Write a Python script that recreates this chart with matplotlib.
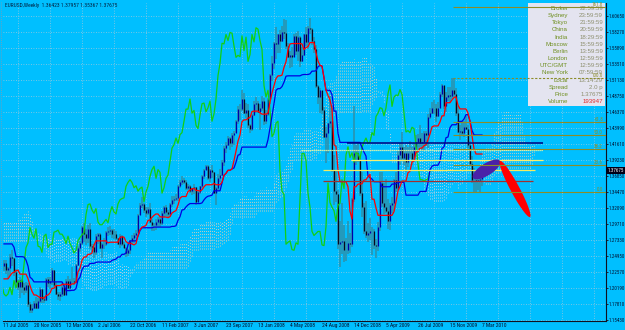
import numpy as np
import matplotlib
matplotlib.use('Agg')
import matplotlib.pyplot as plt
from matplotlib.patches import Polygon, Rectangle
from matplotlib import font_manager
import matplotlib.transforms as mtrans

# ---------------- data ----------------
title_text = "EURUSD,Weekly  1.36423 1.37957 1.35367 1.37675"

# weekly highs / lows of the 77 weeks before the first visible bar (needed by Ichimoku)
pre_high = [1.2930, 1.2650, 1.2500, 1.2450, 1.2410, 1.2400, 1.2330, 1.2270, 1.2060, 1.2000,
            1.2050, 1.2180, 1.2070, 1.2130, 1.2280, 1.2280, 1.2300, 1.2220, 1.2240, 1.2300,
            1.2400, 1.2420, 1.2420, 1.2250, 1.2320, 1.2350, 1.2380, 1.2300, 1.2180, 1.2280,
            1.2300, 1.2300, 1.2450, 1.2420, 1.2470, 1.2620, 1.2820, 1.2890, 1.3000, 1.3050,
            1.3300, 1.3400, 1.3470, 1.3440, 1.3520, 1.3667, 1.3620, 1.3260, 1.3170, 1.3150,
            1.3110, 1.2960, 1.3000, 1.3250, 1.3290, 1.3450, 1.3480, 1.3380, 1.3060, 1.3070,
            1.3080, 1.3100, 1.3090, 1.3000, 1.2950, 1.2720, 1.2670, 1.2550, 1.2390, 1.2310,
            1.2310, 1.2240, 1.2010, 1.2130, 1.2160, 1.2160, 1.2390]
pre_low = [1.2600, 1.2400, 1.2200, 1.2200, 1.2220, 1.2250, 1.2100, 1.2000, 1.1880, 1.1810,
           1.1760, 1.1890, 1.1760, 1.1910, 1.1990, 1.2100, 1.2080, 1.2000, 1.2030, 1.2070,
           1.2260, 1.2280, 1.2200, 1.2020, 1.2020, 1.2160, 1.2220, 1.2040, 1.2000, 1.2040,
           1.2110, 1.2160, 1.2200, 1.2250, 1.2300, 1.2380, 1.2560, 1.2640, 1.2840, 1.2920,
           1.3030, 1.3200, 1.3200, 1.3150, 1.3350, 1.3500, 1.3040, 1.3000, 1.2930, 1.2980,
           1.2870, 1.2730, 1.2760, 1.2980, 1.3050, 1.3180, 1.3300, 1.3000, 1.2850, 1.2820,
           1.2810, 1.2900, 1.2860, 1.2780, 1.2630, 1.2530, 1.2480, 1.2160, 1.2080, 1.2040,
           1.2050, 1.1960, 1.1870, 1.1900, 1.1930, 1.1970, 1.2070]

first_open = 1.2340
close = [1.2390, 1.2290, 1.2310, 1.2480, 1.2460, 1.2260, 1.2110, 1.2030, 1.2140, 1.2030,
         1.1990, 1.2070, 1.1780, 1.1690, 1.1720, 1.1800, 1.1720, 1.1830, 1.2000, 1.1850,
         1.1840, 1.2150, 1.2100, 1.2130, 1.2290, 1.2060, 1.1930, 1.1900, 1.1930, 1.2030,
         1.1920, 1.2130, 1.2020, 1.2120, 1.2120, 1.2110, 1.2360, 1.2620, 1.2690, 1.2920,
         1.2820, 1.2760, 1.2900, 1.2640, 1.2630, 1.2550, 1.2790, 1.2820, 1.2620, 1.2670,
         1.2670, 1.2850, 1.2860, 1.2880, 1.2820, 1.2820, 1.2770, 1.2680, 1.2790, 1.2680,
         1.2620, 1.2540, 1.2580, 1.2720, 1.2770, 1.2810, 1.2840, 1.3110, 1.3260, 1.3270,
         1.3180, 1.3130, 1.3200, 1.3000, 1.2960, 1.2960, 1.3000, 1.3040, 1.2990, 1.3140,
         1.3230, 1.3150, 1.3120, 1.3270, 1.3330, 1.3350, 1.3360, 1.3530, 1.3590, 1.3630,
         1.3590, 1.3510, 1.3540, 1.3460, 1.3500, 1.3520, 1.3300, 1.3450, 1.3530, 1.3680,
         1.3780, 1.3830, 1.3650, 1.3780, 1.3740, 1.3430, 1.3510, 1.3650, 1.3700, 1.3900,
         1.4100, 1.4150, 1.4250, 1.4170, 1.4300, 1.4330, 1.4500, 1.4680, 1.4680, 1.4830,
         1.4620, 1.4660, 1.4440, 1.4390, 1.4590, 1.4760, 1.4770, 1.4640, 1.4700, 1.4800,
         1.4500, 1.4610, 1.4830, 1.5180, 1.5360, 1.5660, 1.5650, 1.5790, 1.5700, 1.5820,
         1.5810, 1.5620, 1.5450, 1.5480, 1.5460, 1.5770, 1.5550, 1.5750, 1.5390, 1.5490,
         1.5790, 1.5680, 1.5890, 1.5870, 1.5700, 1.5570, 1.5030, 1.4860, 1.4960, 1.4670,
         1.4270, 1.4320, 1.4470, 1.4500, 1.3770, 1.3460, 1.3410, 1.2670, 1.2700, 1.2720,
         1.2590, 1.2580, 1.2690, 1.2670, 1.3340, 1.4020, 1.4020, 1.3920, 1.3430, 1.3220,
         1.2860, 1.2800, 1.2830, 1.2860, 1.2860, 1.2660, 1.2650, 1.2930, 1.3580, 1.3290,
         1.3220, 1.3170, 1.3010, 1.3250, 1.3280, 1.3630, 1.3500, 1.4000, 1.4120, 1.3960,
         1.4030, 1.3890, 1.4030, 1.4020, 1.3940, 1.4110, 1.4190, 1.4250, 1.4170, 1.4190,
         1.4330, 1.4290, 1.4570, 1.4620, 1.4700, 1.4690, 1.4580, 1.4700, 1.4910, 1.5040,
         1.4720, 1.4860, 1.4890, 1.4880, 1.4970, 1.4900, 1.4620, 1.4340, 1.4360, 1.4330,
         1.4410, 1.4390, 1.4140, 1.3870, 1.3630, 1.3630, 1.3610, 1.3630, 1.36423, 1.37675]
high = [1.2440, 1.2440, 1.2330, 1.2530, 1.2580, 1.2470, 1.2300, 1.2140, 1.2190, 1.2150,
        1.2100, 1.2110, 1.2090, 1.1810, 1.1780, 1.1830, 1.1880, 1.1870, 1.2040, 1.2000,
        1.1900, 1.2170, 1.2190, 1.2180, 1.2320, 1.2290, 1.2110, 1.1960, 1.1960, 1.2090,
        1.2080, 1.2160, 1.2200, 1.2150, 1.2330, 1.2170, 1.2380, 1.2640, 1.2720, 1.2940,
        1.2980, 1.2900, 1.2950, 1.2980, 1.2680, 1.2670, 1.2820, 1.2840, 1.2830, 1.2690,
        1.2760, 1.2860, 1.2920, 1.2940, 1.2890, 1.2890, 1.2870, 1.2770, 1.2820, 1.2800,
        1.2710, 1.2630, 1.2600, 1.2730, 1.2800, 1.2840, 1.2880, 1.3120, 1.3290, 1.3370,
        1.3290, 1.3220, 1.3230, 1.3280, 1.3040, 1.2990, 1.3050, 1.3080, 1.3080, 1.3170,
        1.3240, 1.3260, 1.3180, 1.3290, 1.3390, 1.3390, 1.3410, 1.3550, 1.3630, 1.3680,
        1.3660, 1.3630, 1.3570, 1.3550, 1.3510, 1.3560, 1.3520, 1.3460, 1.3540, 1.3700,
        1.3790, 1.3850, 1.3850, 1.3790, 1.3850, 1.3750, 1.3520, 1.3720, 1.3790, 1.3930,
        1.4130, 1.4190, 1.4280, 1.4260, 1.4320, 1.4350, 1.4520, 1.4730, 1.4750, 1.4970,
        1.4920, 1.4770, 1.4760, 1.4460, 1.4610, 1.4800, 1.4860, 1.4800, 1.4760, 1.4880,
        1.4850, 1.4670, 1.4840, 1.5200, 1.5470, 1.5680, 1.5900, 1.5800, 1.5850, 1.5910,
        1.6020, 1.6010, 1.5660, 1.5540, 1.5600, 1.5800, 1.5810, 1.5840, 1.5770, 1.5600,
        1.5800, 1.5900, 1.5920, 1.6040, 1.5890, 1.5750, 1.5630, 1.5040, 1.4990, 1.4950,
        1.4710, 1.4410, 1.4480, 1.4870, 1.4720, 1.3990, 1.3760, 1.3480, 1.3020, 1.3290,
        1.2950, 1.2760, 1.3010, 1.2830, 1.3360, 1.4720, 1.4150, 1.4170, 1.3960, 1.3740,
        1.3280, 1.3310, 1.2980, 1.3060, 1.2920, 1.2900, 1.2750, 1.3000, 1.3740, 1.3740,
        1.3580, 1.3640, 1.3340, 1.3290, 1.3370, 1.3640, 1.3740, 1.4050, 1.4180, 1.4340,
        1.4120, 1.4150, 1.4110, 1.4210, 1.4110, 1.4170, 1.4300, 1.4310, 1.4450, 1.4330,
        1.4350, 1.4360, 1.4600, 1.4700, 1.4780, 1.4810, 1.4760, 1.4780, 1.4930, 1.5060,
        1.5030, 1.4930, 1.5010, 1.5010, 1.5145, 1.5140, 1.4990, 1.4730, 1.4450, 1.4510,
        1.4510, 1.4580, 1.4450, 1.4200, 1.3980, 1.3810, 1.3710, 1.3690, 1.3740, 1.37957]
low = [1.2270, 1.2230, 1.2150, 1.2200, 1.2350, 1.2200, 1.2040, 1.1990, 1.1870, 1.1950,
       1.1910, 1.1940, 1.1740, 1.1640, 1.1640, 1.1700, 1.1710, 1.1710, 1.1800, 1.1800,
       1.1790, 1.1820, 1.2030, 1.2000, 1.2070, 1.2040, 1.1910, 1.1840, 1.1830, 1.1880,
       1.1900, 1.1920, 1.2000, 1.1980, 1.2080, 1.2060, 1.2100, 1.2340, 1.2550, 1.2660,
       1.2710, 1.2660, 1.2690, 1.2600, 1.2560, 1.2460, 1.2510, 1.2680, 1.2600, 1.2460,
       1.2600, 1.2650, 1.2790, 1.2800, 1.2760, 1.2750, 1.2740, 1.2660, 1.2620, 1.2650,
       1.2610, 1.2480, 1.2500, 1.2530, 1.2680, 1.2690, 1.2770, 1.2830, 1.3100, 1.3210,
       1.3140, 1.3080, 1.3100, 1.2990, 1.2870, 1.2870, 1.2880, 1.2920, 1.2930, 1.2950,
       1.3080, 1.3090, 1.3080, 1.3080, 1.3230, 1.3270, 1.3310, 1.3320, 1.3500, 1.3550,
       1.3560, 1.3480, 1.3470, 1.3430, 1.3400, 1.3420, 1.3260, 1.3300, 1.3420, 1.3500,
       1.3640, 1.3770, 1.3620, 1.3600, 1.3660, 1.3410, 1.3260, 1.3480, 1.3590, 1.3680,
       1.3840, 1.4020, 1.4130, 1.4070, 1.4120, 1.4140, 1.4320, 1.4460, 1.4520, 1.4650,
       1.4600, 1.4550, 1.4400, 1.4330, 1.4360, 1.4580, 1.4620, 1.4620, 1.4370, 1.4650,
       1.4450, 1.4460, 1.4580, 1.4750, 1.5100, 1.5280, 1.5430, 1.5520, 1.5520, 1.5680,
       1.5720, 1.5580, 1.5440, 1.5290, 1.5300, 1.5450, 1.5480, 1.5400, 1.5300, 1.5380,
       1.5470, 1.5620, 1.5580, 1.5800, 1.5640, 1.5520, 1.5000, 1.4750, 1.4620, 1.4600,
       1.4250, 1.3880, 1.4030, 1.4400, 1.3750, 1.3260, 1.3300, 1.2600, 1.2330, 1.2520,
       1.2410, 1.2420, 1.2530, 1.2540, 1.2630, 1.3300, 1.3850, 1.3890, 1.3390, 1.3080,
       1.2820, 1.2760, 1.2700, 1.2740, 1.2510, 1.2600, 1.2460, 1.2570, 1.2860, 1.3230,
       1.3120, 1.3140, 1.2900, 1.2880, 1.3130, 1.3170, 1.3450, 1.3470, 1.3850, 1.3910,
       1.3850, 1.3750, 1.3820, 1.3950, 1.3850, 1.3920, 1.4050, 1.4060, 1.4120, 1.4050,
       1.4050, 1.4130, 1.4100, 1.4540, 1.4600, 1.4600, 1.4490, 1.4560, 1.4690, 1.4860,
       1.4680, 1.4630, 1.4800, 1.4790, 1.4830, 1.4860, 1.4580, 1.4330, 1.4220, 1.4300,
       1.4260, 1.4370, 1.4100, 1.3860, 1.3580, 1.3450, 1.3444, 1.3480, 1.3450, 1.35367]

date_ticks = [-0.5, 15, 31, 47, 63, 79, 95, 111, 127, 143, 159, 175, 191, 207, 223, 239]
date_labels = ['11 Jul 2005', '20 Nov 2005', '12 Mar 2006', '2 Jul 2006', '22 Oct 2006',
               '11 Feb 2007', '3 Jun 2007', '23 Sep 2007', '13 Jan 2008', '4 May 2008',
               '24 Aug 2008', '14 Dec 2008', '5 Apr 2009', '26 Jul 2009', '15 Nov 2009',
               '7 Mar 2010']
price_ticks = [1.15430, 1.17810, 1.20190, 1.22570, 1.24950, 1.27330, 1.29710, 1.32090,
               1.34470, 1.36850, 1.39230, 1.41610, 1.43990, 1.46370, 1.48750, 1.51130,
               1.53510, 1.55890, 1.58270, 1.60650]
price_labels = ['%.5f' % p for p in price_ticks]
last_price = 1.37675

fib_levels = [0.0, 23.6, 38.2, 50.0, 61.8, 100.0, 161.8]
fib_zero_price = 1.3444
fib_hundred_price = 1.5145
fib_start_week = 224.5

sr_prices = [1.4176, 1.4072, 1.3923, 1.3774, 1.3611]
sr_start = [171.5, 148.5, 173.5, 159.5, 159.5]
sr_end = [269.5, 269.5, 269.5, 265.5, 264.5]

proj_weeks = [(234.5, 248.0), (248.0, 263.0)]
proj_prices = [(1.3656, 1.3909), (1.3909, 1.3075)]

panel_labels = ['Broker', 'Sydney', 'Tokyo', 'China', 'India', 'Moscow', 'Berlin', 'London',
                'UTC/GMT', 'New York', 'Local', 'Spread', 'Price', 'Volume']
panel_values = ['22:59:59', '23:59:59', '21:59:59', '20:59:59', '18:29:59', '15:59:59',
                '13:59:59', '12:59:59', '12:59:59', '07:59:59', '13:14:29', '2.0 p',
                '1.37675', '193947']

# ---------------- helpers ----------------
avail = {f.name for f in font_manager.fontManager.ttflist}
def pick(*names):
    for n in names:
        if n in avail:
            return n
    return 'DejaVu Sans'
NARROW = pick('Liberation Sans Narrow', 'Roboto Condensed', 'Liberation Sans')
SANS = pick('Liberation Sans', 'Arial', 'DejaVu Sans')

W, H = 625, 330
fig = plt.figure(figsize=(W / 100, H / 100), dpi=100)
BG = '#00BFFF'
fig.patch.set_facecolor(BG)
def fx(x): return x / W
def fy(y): return 1 - y / H

ax = fig.add_axes([fx(3), fy(321), fx(603), 318 / H])
ax.set_facecolor(BG)
ax.set_xlim(-0.5, 301)
ax.set_ylim(1.15281, 1.62584)

n = len(close)
weeks = np.arange(n)
opens = np.array([first_open] + close[:-1])
cl = np.array(close); hi = np.array(high); lo = np.array(low)

# grid
for p in price_ticks:
    ax.axhline(p, color='#9CC8DC', lw=0.6, ls=(0, (1, 2)), zorder=0.5)
for g in np.arange(7, 301, 16):
    ax.axvline(g, color='#9CC8DC', lw=0.6, ls=(0, (1, 2)), zorder=0.5)

# Ichimoku
hh = np.array(pre_high + high); ll = np.array(pre_low + low)
off = len(pre_high)
def mid(period, t):
    i = t + off
    return (hh[i - period + 1:i + 1].max() + ll[i - period + 1:i + 1].min()) / 2
tenkan = np.array([mid(9, t) for t in weeks])
kijun = np.array([mid(26, t) for t in weeks])
cloud_w = np.arange(0, n + 26)
spanA = np.array([(mid(9, w - 26) + mid(26, w - 26)) / 2 for w in cloud_w])
spanB = np.array([mid(52, w - 26) for w in cloud_w])
up = spanA >= spanB
ax.vlines(cloud_w[up], spanB[up], spanA[up], colors='#E6D0B0', lw=0.6, alpha=0.95,
          linestyles=(0, (1.2, 2.3)), zorder=1)
ax.vlines(cloud_w[~up], spanA[~up], spanB[~up], colors='#D6D6DE', lw=0.6, alpha=0.95,
          linestyles=(0, (1.2, 2.3)), zorder=1)

# candles
ax.vlines(weeks, lo, hi, colors='#2E8FA8', lw=1.1, zorder=2)
bull = cl >= opens
ax.vlines(weeks[bull], opens[bull], cl[bull], colors='#0000A8', lw=0.9, zorder=2.5)
ax.vlines(weeks[~bull], cl[~bull], opens[~bull], colors='#080820', lw=0.9, zorder=2.5)

# lines
ax.plot(weeks - 26, cl, color='#12D012', lw=0.9, zorder=3)
ax.plot(weeks, kijun, color='#0000E0', lw=0.9, zorder=3.1)
ax.plot(weeks, tenkan, color='#FF0000', lw=0.9, zorder=3.2)

# support / resistance lines
sr_styles = [('#000080', 1.1, '-'), ('#FFFFA0', 0.9, (0, (1, 0.6))), ('#F8F070', 0.9, '-'),
             ('#F4EC60', 0.9, '-'), ('#A03030', 0.9, '-')]
for p, s, e, (c, lw, ls) in zip(sr_prices, sr_start, sr_end, sr_styles):
    ax.hlines(p, s, e, colors=c, lw=lw, linestyles=ls, zorder=4)

# info panel (inside axes so that the fibo lines can cross it)
panel = Rectangle((fx(528), fy(106)), fx(77), 103 / H, transform=fig.transFigure,
                  facecolor='#E4E4F0', edgecolor='none', zorder=6.5, clip_on=False)
ax.add_patch(panel)
for i, (lab, val) in enumerate(zip(panel_labels, panel_values)):
    y = 8.5 + 7.15 * i
    ax.text(fx(568), fy(y), lab, transform=fig.transFigure, ha='right', va='center',
            fontsize=4.4, family=SANS, color='#6E8E1E', zorder=6.6, clip_on=False)
    ax.text(fx(603), fy(y), val, transform=fig.transFigure, ha='right', va='center',
            fontsize=4.4, family=SANS,
            color='#E02828' if lab == 'Volume' else '#8E9070', zorder=6.6, clip_on=False)

# fibonacci levels
for lv in fib_levels:
    p = fib_zero_price + lv / 100 * (fib_hundred_price - fib_zero_price)
    ls = (0, (2, 1.5)) if lv == 100.0 else '-'
    ax.hlines(p, fib_start_week, 301, colors='#8C8C28', lw=0.8, linestyles=ls, zorder=7)
    ax.text(299.5, p, '%.1f' % lv, ha='right', va='bottom', fontsize=3.6, family=NARROW,
            color='#8C8C28', zorder=7)

# projection ellipses
fig.canvas.draw()
def ellipse(p0, p1, half):
    a = ax.transData.transform(p0); b = ax.transData.transform(p1)
    c = (a + b) / 2; d = b - a; L = np.hypot(*d) / 2
    u = d / (2 * L); nrm = np.array([-u[1], u[0]])
    t = np.linspace(0, 2 * np.pi, 120)
    pts = c + np.outer(L * np.cos(t), u) + np.outer(half * np.sin(t), nrm)
    return ax.transData.inverted().transform(pts)
for (w0, w1), (p0, p1), col, half in zip(proj_weeks, proj_prices, ['#4A22A8', '#FF0000'], [6, 4.5]):
    ax.add_patch(Polygon(ellipse((w0, p0), (w1, p1), half), closed=True, facecolor=col,
                         edgecolor='none', zorder=6))

# axes styling
for s in ['top', 'left']:
    ax.spines[s].set_visible(False)
for s in ['right', 'bottom']:
    ax.spines[s].set_color('#101020'); ax.spines[s].set_linewidth(0.8)
ax.yaxis.tick_right()
ax.set_yticks(price_ticks, price_labels)
ax.tick_params(axis='y', length=1.6, width=0.6, pad=0.6, labelsize=3.6,
               labelcolor='#001030', color='#101020')
for t in ax.get_yticklabels():
    t.set_family(NARROW)
ax.set_xticks(date_ticks, date_labels)
ax.tick_params(axis='x', length=0, pad=1.2, labelsize=4.0, labelcolor='#001030')
for t in ax.get_xticklabels():
    t.set_ha('left'); t.set_family(NARROW)

blend = mtrans.blended_transform_factory(ax.transAxes, ax.transData)
ax.text(1.002, last_price, '%.5f' % last_price, transform=blend, ha='left', va='center',
        fontsize=3.6, family=NARROW, color='white', clip_on=False, zorder=8,
        bbox=dict(boxstyle='square,pad=0.2', fc='#000018', ec='none'))

# left dotted frame
fig.add_artist(plt.Line2D([fx(1.5), fx(1.5)], [fy(2), fy(321)], transform=fig.transFigure,
                          color='#8899AA', lw=0.6, ls=(0, (1, 1.5))))

fig.text(fx(5), fy(5.5), title_text, ha='left', va='center', fontsize=4.0, family=NARROW,
         color='#002040')

fig.savefig('out.png', dpi=100, facecolor=BG)
